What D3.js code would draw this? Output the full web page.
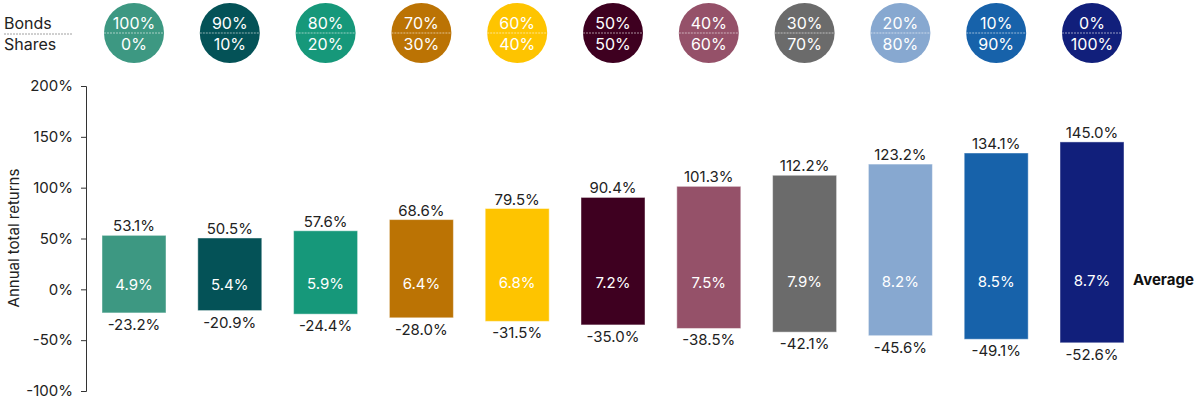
<!DOCTYPE html>
<html>
<head>
<meta charset="utf-8">
<script src="https://cdn.jsdelivr.net/npm/d3@7"></script>
<style>
body { margin: 0; background: #fff; }
text { font-family: "Inter", "Lato", sans-serif; }
</style>
</head>
<body>
<svg id="chart" width="1200" height="401"></svg>
<script>
var width = 1200, height = 401;

// portfolio mixes
var bonds  = [100, 90, 80, 70, 60, 50, 40, 30, 20, 10, 0];
var shares = [0, 10, 20, 30, 40, 50, 60, 70, 80, 90, 100];
var colours = ["#3d9882", "#045257", "#16987a", "#bb7304", "#fec400", "#3e0020",
               "#955169", "#6b6b6b", "#87a8d0", "#1762aa", "#111f7b"];

// returns (%)
var bestYear  = [53.1, 50.5, 57.6, 68.6, 79.5, 90.4, 101.3, 112.2, 123.2, 134.1, 145.0];
var worstYear = [-23.2, -20.9, -24.4, -28.0, -31.5, -35.0, -38.5, -42.1, -45.6, -49.1, -52.6];
var average   = [4.9, 5.4, 5.9, 6.4, 6.8, 7.2, 7.5, 7.9, 8.2, 8.5, 8.7];

var yTicks = [-100, -50, 0, 50, 100, 150, 200];

var svg = d3.select("#chart");

var x = d3.scaleBand()
    .domain(d3.range(bonds.length))
    .range([86, 1140])
    .paddingInner(0.332)
    .paddingOuter(0.167);

var y = d3.scaleLinear()
    .domain([-100, 200])
    .range([391, 86]);

var fmt = d => d.toFixed(1) + "%";

// y axis
var axis = svg.append("g")
    .attr("transform", "translate(86,0)")
    .call(d3.axisLeft(y).tickValues(yTicks).tickSize(5).tickPadding(8).tickFormat(d => d + "%"));
axis.select(".domain").attr("stroke", "#333");
axis.selectAll(".tick line").attr("stroke", "#333");
axis.selectAll(".tick text")
    .attr("fill", "#222")
    .style("font-size", "15px")
    .style("font-family", "Inter, sans-serif");

svg.append("text")
    .attr("transform", "translate(19,238) rotate(-90)")
    .attr("text-anchor", "middle")
    .attr("fill", "#222")
    .style("font-size", "15px")
    .text("Annual total returns");

// bars
var bars = svg.append("g");
bars.selectAll("rect")
    .data(bonds)
    .enter()
    .append("rect")
    .attr("x", (d, i) => x(i))
    .attr("width", x.bandwidth())
    .attr("y", (d, i) => y(bestYear[i]))
    .attr("height", (d, i) => y(worstYear[i]) - y(bestYear[i]))
    .attr("fill", (d, i) => colours[i])
    .attr("stroke", "#fff")
    .attr("stroke-opacity", 0.45)
    .attr("stroke-width", 1);

// best year labels
svg.append("g").selectAll("text")
    .data(bestYear)
    .enter()
    .append("text")
    .attr("x", (d, i) => x(i) + x.bandwidth() / 2)
    .attr("y", d => y(d) - 4)
    .attr("text-anchor", "middle")
    .attr("fill", "#222")
    .style("font-size", "15px")
    .text(fmt);

// worst year labels
svg.append("g").selectAll("text")
    .data(worstYear)
    .enter()
    .append("text")
    .attr("x", (d, i) => x(i) + x.bandwidth() / 2)
    .attr("y", d => y(d) + 17)
    .attr("text-anchor", "middle")
    .attr("fill", "#222")
    .style("font-size", "15px")
    .text(fmt);

// average labels
svg.append("g").selectAll("text")
    .data(average)
    .enter()
    .append("text")
    .attr("x", (d, i) => x(i) + x.bandwidth() / 2)
    .attr("y", d => y(d) + 6)
    .attr("text-anchor", "middle")
    .attr("fill", "#fff")
    .style("font-size", "15px")
    .text(fmt);

svg.append("text")
    .attr("x", 1133)
    .attr("y", y(average[average.length - 1]) + 5)
    .attr("fill", "#111")
    .style("font-size", "15px")
    .style("font-weight", "bold")
    .text("Average");

// mix circles along the top
var mix = svg.append("g").selectAll("g.mix")
    .data(bonds)
    .enter()
    .append("g")
    .attr("class", "mix")
    .attr("transform", (d, i) => "translate(" + (x(i) + x.bandwidth() / 2) + ",33)");

mix.append("circle")
    .attr("r", 30)
    .attr("fill", (d, i) => colours[i]);

mix.append("line")
    .attr("x1", -30).attr("x2", 30)
    .attr("stroke", "#fff")
    .attr("stroke-opacity", 0.7)
    .attr("stroke-width", 0.8)
    .attr("stroke-dasharray", "2,1");

mix.append("text")
    .attr("y", -4)
    .attr("text-anchor", "middle")
    .attr("fill", "#fff")
    .style("font-size", "16px")
    .text(d => d + "%");

mix.append("text")
    .attr("y", 17)
    .attr("text-anchor", "middle")
    .attr("fill", "#fff")
    .style("font-size", "16px")
    .text((d, i) => shares[i] + "%");

// legend key
svg.append("text")
    .attr("x", 4).attr("y", 29)
    .attr("fill", "#222")
    .style("font-size", "16px")
    .text("Bonds");
svg.append("line")
    .attr("x1", 4).attr("x2", 72)
    .attr("y1", 34).attr("y2", 34)
    .attr("stroke", "#888")
    .attr("stroke-width", 0.8)
    .attr("stroke-dasharray", "2,1");
svg.append("text")
    .attr("x", 4).attr("y", 50)
    .attr("fill", "#222")
    .style("font-size", "16px")
    .text("Shares");
</script>
</body>
</html>
